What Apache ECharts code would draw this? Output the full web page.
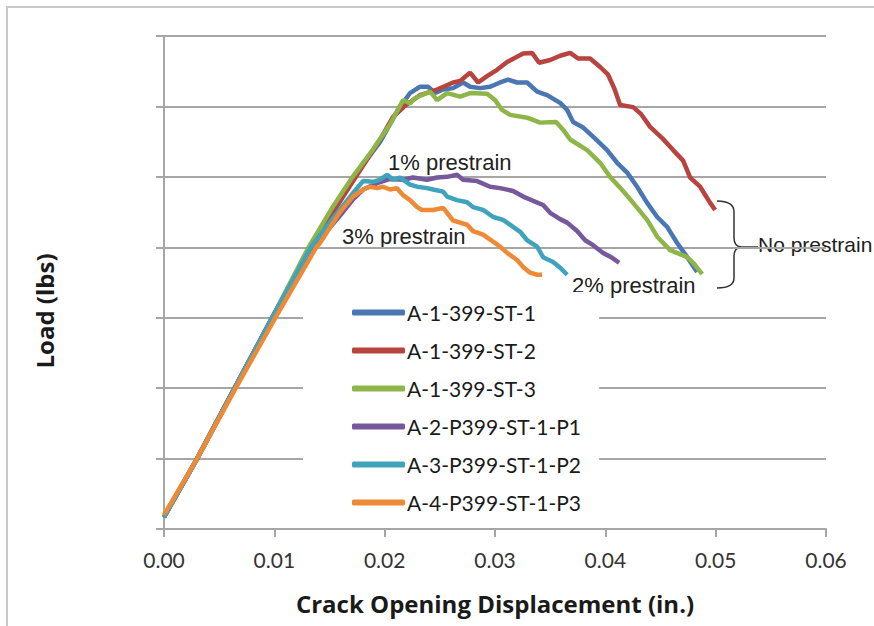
<!DOCTYPE html>
<html>
<head>
<meta charset="utf-8">
<script src="https://cdn.jsdelivr.net/npm/echarts@6/dist/echarts.min.js"></script>
<style>
  html, body { margin: 0; padding: 0; background: #fff; }
  #chart { width: 874px; height: 626px; }
</style>
</head>
<body>
<div id="chart"></div>
<script>
// Crack opening displacement (in.) vs load (gridline units, axis unlabeled)
const seriesNames = ['A-1-399-ST-1', 'A-1-399-ST-2', 'A-1-399-ST-3',
    'A-2-P399-ST-1-P1', 'A-3-P399-ST-1-P2', 'A-4-P399-ST-1-P3'];
const seriesColors = ['#4a77b4', '#b8433f', '#8db548', '#76589c', '#3fa3bd', '#ee8a36'];

const st1 = [[0, 0.17], [0.003, 1.0], [0.0064, 2.0], [0.0098, 3.0], [0.0132, 4.0], [0.0172, 5.0],
    [0.0196, 5.5], [0.0212, 5.95], [0.0223, 6.19], [0.02321, 6.28], [0.02393, 6.28], [0.02457, 6.19],
    [0.0253, 6.24], [0.0262, 6.26], [0.02711, 6.34], [0.02774, 6.28], [0.02865, 6.26], [0.02956, 6.28],
    [0.03046, 6.34], [0.03119, 6.38], [0.032, 6.34], [0.03291, 6.34], [0.03382, 6.21], [0.03472, 6.16],
    [0.0359, 6.05], [0.03654, 5.95], [0.03708, 5.78], [0.03799, 5.7], [0.03889, 5.57], [0.04016, 5.38],
    [0.04107, 5.2], [0.04198, 5.06], [0.04288, 4.86], [0.04379, 4.63], [0.0447, 4.43], [0.0456, 4.29],
    [0.04651, 4.06], [0.04742, 3.86], [0.04832, 3.65]];

const st2 = [[0, 0.17], [0.003, 1.0], [0.0064, 2.0], [0.0098, 3.0], [0.0133, 4.0], [0.0173, 4.98],
    [0.01958, 5.53], [0.02076, 5.85], [0.02185, 6.01], [0.02321, 6.16], [0.02475, 6.24], [0.0262, 6.34],
    [0.02684, 6.36], [0.02774, 6.48], [0.02847, 6.34], [0.02928, 6.43], [0.03019, 6.52], [0.0311, 6.63],
    [0.03255, 6.75], [0.03336, 6.76], [0.034, 6.62], [0.035, 6.66], [0.0359, 6.72], [0.03681, 6.76],
    [0.03753, 6.68], [0.03862, 6.68], [0.03953, 6.56], [0.04025, 6.45], [0.0408, 6.26], [0.04134, 6.02],
    [0.04252, 5.99], [0.04325, 5.89], [0.04406, 5.71], [0.04515, 5.55], [0.04615, 5.38], [0.04705, 5.23],
    [0.04769, 4.99], [0.04859, 4.86], [0.0495, 4.63], [0.04995, 4.53]];

const st3 = [[0, 0.17], [0.003, 1.0], [0.0064, 2.0], [0.0098, 3.0], [0.0131, 4.0], [0.0152, 4.55],
    [0.0171, 5.0], [0.0189, 5.38], [0.0205, 5.75], [0.02167, 6.09], [0.0223, 6.04], [0.02276, 6.12],
    [0.02412, 6.21], [0.02475, 6.09], [0.02566, 6.19], [0.02684, 6.14], [0.02774, 6.19], [0.02928, 6.18],
    [0.03001, 6.09], [0.03064, 5.95], [0.03137, 5.88], [0.03291, 5.84], [0.03409, 5.77], [0.03554, 5.78],
    [0.03617, 5.67], [0.03681, 5.53], [0.03835, 5.38], [0.03953, 5.2], [0.04043, 5.0], [0.04161, 4.8],
    [0.04252, 4.63], [0.04379, 4.39], [0.0447, 4.15], [0.04587, 3.96], [0.04742, 3.86], [0.04796, 3.78],
    [0.04878, 3.62]];

const p1 = [[0, 0.17], [0.003, 1.0], [0.0064, 2.0], [0.0098, 3.0], [0.0134, 3.98], [0.01596, 4.45],
    [0.01713, 4.68], [0.01804, 4.82], [0.01931, 4.91], [0.02049, 4.97], [0.02167, 4.96], [0.02257, 4.99],
    [0.02384, 4.96], [0.02475, 4.99], [0.02566, 5.0], [0.02656, 5.03], [0.02711, 4.96], [0.02838, 4.94],
    [0.02956, 4.86], [0.03046, 4.84], [0.03164, 4.8], [0.03255, 4.72], [0.03345, 4.66], [0.03436, 4.6],
    [0.035, 4.49], [0.0359, 4.4], [0.03654, 4.35], [0.03744, 4.23], [0.03817, 4.1], [0.03889, 4.03],
    [0.0398, 3.92], [0.04062, 3.85], [0.04125, 3.78]];

const p2 = [[0, 0.17], [0.003, 1.0], [0.0064, 2.0], [0.0098, 3.0], [0.0133, 4.0], [0.0155, 4.45],
    [0.01713, 4.77], [0.01804, 4.94], [0.01895, 4.93], [0.01958, 4.96], [0.02022, 5.03], [0.02076, 4.96],
    [0.0214, 4.99], [0.0223, 4.89], [0.02294, 4.86], [0.02384, 4.84], [0.02439, 4.82], [0.0253, 4.79],
    [0.02566, 4.72], [0.02656, 4.67], [0.02747, 4.64], [0.02801, 4.57], [0.02892, 4.53], [0.02983, 4.43],
    [0.03073, 4.39], [0.03164, 4.29], [0.03228, 4.22], [0.03291, 4.1], [0.03382, 4.01], [0.03436, 3.86],
    [0.03527, 3.79], [0.0359, 3.71], [0.03654, 3.61]];

const p3 = [[0, 0.2], [0.003, 1.0], [0.0065, 2.0], [0.0101, 3.0], [0.0138, 4.0], [0.01414, 4.06],
    [0.01596, 4.5], [0.01713, 4.72], [0.01804, 4.82], [0.01868, 4.86], [0.01931, 4.84], [0.01985, 4.86],
    [0.02049, 4.82], [0.02112, 4.84], [0.02167, 4.74], [0.0223, 4.67], [0.02294, 4.57], [0.02339, 4.53],
    [0.02439, 4.53], [0.0253, 4.56], [0.02566, 4.49], [0.0262, 4.38], [0.02684, 4.35], [0.02747, 4.32],
    [0.02801, 4.23], [0.02892, 4.18], [0.02956, 4.11], [0.03046, 4.01], [0.0311, 3.92], [0.032, 3.82],
    [0.03255, 3.72], [0.03318, 3.64], [0.03382, 3.61], [0.03427, 3.61]];

const seriesData = [st1, st2, st3, p1, p2, p3];

const annoFont = '"Liberation Sans", Arial, sans-serif';
const mainFont = 'Lato, "Open Sans", sans-serif';
const titleFont = '"Open Sans", Lato, sans-serif';

const chart = echarts.init(document.getElementById('chart'), null, { renderer: 'svg' });

function annoText(str, left, top, size) {
    return {
        type: 'text', left: left, top: top,
        style: { text: str, fontFamily: annoFont, fontSize: size || 22, fill: '#222' }
    };
}

// brace next to the no-prestrain curves
const braceStyle = { stroke: '#333', lineWidth: 1.5, fill: 'none' };
const brace = [
    { type: 'bezierCurve', shape: { x1: 717, y1: 201, cpx1: 734, cpy1: 201, x2: 734, y2: 212 }, style: braceStyle },
    { type: 'line', shape: { x1: 734, y1: 212, x2: 734, y2: 238 }, style: braceStyle },
    { type: 'bezierCurve', shape: { x1: 734, y1: 238, cpx1: 734, cpy1: 246, x2: 741, y2: 247 }, style: braceStyle },
    { type: 'bezierCurve', shape: { x1: 741, y1: 247, cpx1: 734, cpy1: 248, x2: 734, y2: 256 }, style: braceStyle },
    { type: 'line', shape: { x1: 734, y1: 256, x2: 734, y2: 278 }, style: braceStyle },
    { type: 'bezierCurve', shape: { x1: 734, y1: 278, cpx1: 734, cpy1: 288, x2: 717, y2: 288 }, style: braceStyle },
    { type: 'line', shape: { x1: 741, y1: 247, x2: 758, y2: 247 }, style: braceStyle }
];

const option = {
    backgroundColor: '#fff',
    animation: false,
    grid: {
        left: 164,
        right: 48,
        top: 36,
        bottom: 97,
        containLabel: false,
        outerBoundsMode: 'none'
    },
    legend: {
        orient: 'vertical',
        left: 303,
        top: 292,
        backgroundColor: '#fff',
        padding: [10, 18, 14, 49],
        itemWidth: 53,
        itemHeight: 6,
        itemGap: 17,
        icon: 'roundRect',
        selectedMode: false,
        data: seriesNames,
        textStyle: {
            fontFamily: mainFont,
            fontSize: 21,
            color: '#1a1a1a',
            padding: [0, 0, 0, -3]
        }
    },
    xAxis: {
        type: 'value',
        min: 0,
        max: 0.06,
        interval: 0.01,
        name: 'Crack Opening Displacement (in.)',
        nameLocation: 'middle',
        nameGap: 62,
        nameTextStyle: {
            fontFamily: titleFont,
            fontSize: 24,
            fontWeight: 'bold',
            color: '#1a1a1a'
        },
        axisLine: { lineStyle: { color: '#a6a6a6', width: 2 } },
        axisTick: { show: true, length: 8, lineStyle: { color: '#a6a6a6', width: 2 } },
        axisLabel: {
            fontFamily: mainFont,
            fontSize: 21,
            color: '#333',
            margin: 20,
            formatter: function (v) { return v.toFixed(2); }
        },
        splitLine: { show: false }
    },
    yAxis: {
        type: 'value',
        min: 0,
        max: 7,
        interval: 1,
        axisLine: { show: true, lineStyle: { color: '#a6a6a6', width: 2 } },
        axisTick: { show: true, length: 8, lineStyle: { color: '#a6a6a6', width: 2 } },
        axisLabel: { show: false },
        splitLine: { show: true, lineStyle: { color: '#a6a6a6', width: 2 } }
    },
    series: seriesNames.map(function (name, i) {
        return {
            name: name,
            type: 'line',
            data: seriesData[i],
            showSymbol: false,
            symbol: 'none',
            smooth: false,
            color: seriesColors[i],
            lineStyle: { width: 4.5, color: seriesColors[i] }
        };
    }),
    graphic: [
        {
            type: 'rect',
            shape: { x: 7, y: 7, width: 900, height: 700 },
            style: { fill: 'none', stroke: '#c8c8c8', lineWidth: 2 },
            silent: true,
            z: -10
        },
        {
            type: 'text',
            x: 44,
            y: 311,
            rotation: Math.PI / 2,
            style: {
                text: 'Load (lbs)',
                fontFamily: titleFont,
                fontSize: 24,
                fontWeight: 'bold',
                fill: '#1a1a1a',
                textAlign: 'center',
                textVerticalAlign: 'middle'
            }
        },
        annoText('1% prestrain', 388, 151),
        annoText('3% prestrain', 342, 225),
        annoText('2% prestrain', 572, 274),
        annoText('No prestrain', 758, 234, 21)
    ].concat(brace)
};

chart.setOption(option);
</script>
</body>
</html>
